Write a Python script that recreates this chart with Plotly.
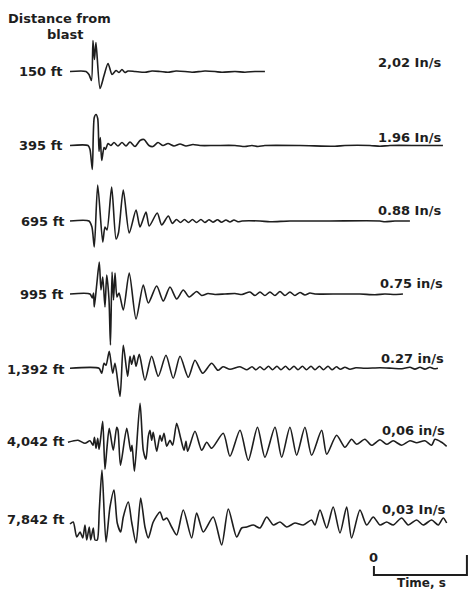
import plotly.graph_objects as go

# ---------------- data (time in ms from trace start, deflection in trace units, + = up) ----------------
DISTANCES = ["150 ft", "395 ft", "695 ft", "995 ft", "1,392 ft", "4,042 ft", "7,842 ft"]
PEAK_VELOCITY = ["2,02 In/s", "1.96 In/s", "0.88 In/s", "0.75 in/s", "0.27 in/s", "0,06 in/s", "0,03 In/s"]

TRACE_150 = [(0, 0), (172, 0), (204, -3), (231, -9), (247, 31), (263, 12), (279, 29), (323, -17), (366, -4),
             (409, 8), (452, -3), (495, 1), (527, -1), (559, 2), (591, -1), (624, 0.5), (699, 0), (806, -0.8),
             (882, 0.5), (968, 0), (1054, -0.8), (1140, 0.5), (1236, 0), (1312, -0.8), (1451, 0.5), (1559, 0),
             (1634, -0.8), (1774, 0), (1881, -0.7), (1989, 0), (2096, 0)]

TRACE_395 = [(0, 0), (194, 0), (215, -4), (240, -24), (261, 28), (280, 31), (298, 27), (312, -6), (326, 8),
             (341, -15), (366, -2), (382, -4), (409, 2), (441, 0), (473, 3), (516, -0.5), (559, 3), (602, -0.5),
             (645, 3.5), (699, -1), (753, 5), (796, 6), (849, 0), (892, -1), (946, 3), (1000, 0), (1054, 2),
             (1118, -0.5), (1183, 1.5), (1247, -0.5), (1322, 1), (1398, 0), (1559, 0), (1774, 0), (1881, -1),
             (1957, 0), (2021, -1), (2096, 0), (2473, 0), (2849, -0.8), (2956, 0), (3225, 0), (3333, -0.8),
             (3440, 0), (3763, 0), (4010, 0)]

TRACE_695 = [(0, 0), (204, 0), (236, -6), (261, -26), (298, 36), (352, -21), (376, -6), (398, -9), (448, 34),
             (495, -18), (521, -12), (573, 31), (637, -12), (710, 11), (753, -6), (817, 9), (852, -5), (938, 8),
             (986, -4), (1057, 5), (1100, -2.5), (1145, 1.5), (1188, -1.5), (1231, 1.5), (1274, -1.5),
             (1317, 1.5), (1360, -1.5), (1408, 1.5), (1451, -1.5), (1494, 1.2), (1537, -1.2), (1586, 1.2),
             (1629, -1.2), (1677, 1), (1720, -1), (1763, 1), (1806, -0.8), (1849, 0), (2043, 0), (2150, -0.8),
             (2365, 0), (2795, 0), (3333, 0), (3386, -0.8), (3494, 0), (3655, 0)]

TRACE_995 = [(0, 0), (215, 0), (240, -4), (253, 1), (261, -13), (287, 9), (315, 32), (333, 4), (352, 17),
             (376, -13), (395, 19), (419, -5), (435, -51), (452, 22), (468, -6), (484, 21), (505, -3), (527, 1),
             (573, -16), (637, 21), (710, -25), (788, 9), (842, -9), (932, 8), (1003, -7), (1075, 7), (1147, -5),
             (1218, 4), (1282, -3), (1362, 2.5), (1416, -1.5), (1484, 0.5), (1559, -0.5), (1666, 0), (1774, 0.5),
             (1849, -0.5), (1935, 2), (1989, -1.5), (2043, 2), (2096, -1.5), (2150, 2), (2204, -1.5), (2258, 2.5),
             (2311, -1.5), (2365, 2), (2419, -1.5), (2473, 1.5), (2526, -1), (2580, 1), (2634, 0), (2903, 0),
             (3118, 0), (3279, -0.7), (3386, 0), (3494, -0.5), (3580, 0)]

TRACE_1392 = [(0, 0), (312, 0), (341, -5), (366, 5), (387, 3), (422, 17), (459, -5), (484, 5), (538, -28),
              (573, 23), (620, -8), (645, 12), (663, 4), (688, 13), (710, 2), (745, 14), (806, -12), (878, 12),
              (949, -8), (1032, 13), (1110, -10), (1183, 12), (1272, -9), (1344, 8), (1427, -5), (1523, 5),
              (1591, -2), (1645, 1.5), (1720, -1), (1828, 1.5), (1903, -1.5), (1957, 1.5), (2000, -1.5),
              (2043, 1.5), (2086, -1.5), (2134, 2), (2177, -1.5), (2225, 2), (2268, -1.5), (2317, 2),
              (2360, -1.5), (2408, 2), (2451, -1.5), (2499, 2), (2542, -1.5), (2591, 2), (2634, -1.5), (2682, 2),
              (2725, -1.5), (2774, 2), (2817, -1.5), (2865, 1.5), (2908, -1), (2956, 1), (3010, -1), (3074, 0.5),
              (3171, 0), (3333, 0.5), (3462, 0), (3569, -0.5), (3655, 1), (3709, -0.8), (3763, 1), (3816, -0.8),
              (3870, 1), (3913, -0.5), (3956, 0)]

TRACE_4042 = [(-22, 0), (86, 2), (161, -1), (215, 1.5), (247, -3), (263, 5), (280, -6), (298, 4), (312, -7),
              (328, 3), (352, 21), (376, -27), (398, -5), (422, 14), (465, -8), (502, 15), (516, 12), (543, -23),
              (610, 14), (653, -9), (667, -3), (693, -29), (753, 39), (788, -8), (817, -17), (842, 6), (860, 12),
              (878, 2), (895, 10), (932, -9), (968, 7), (986, 1), (1011, 9), (1040, -4), (1075, 2), (1104, -3),
              (1147, 19), (1190, 4), (1226, -8), (1247, 1), (1265, -9), (1344, 11), (1416, -8), (1470, 0),
              (1523, -6), (1648, 9), (1720, -14), (1828, 12), (1917, -18), (2016, 15), (2096, -15), (2204, 15),
              (2276, -15), (2365, 15), (2437, -13), (2526, 15), (2598, -13), (2706, 12), (2760, -12), (2867, 7),
              (2956, -5), (3028, 3), (3082, -2), (3171, 3), (3243, -3), (3333, 2.5), (3405, -2), (3475, 1.5),
              (3566, -3), (3655, 1.5), (3727, -0.5), (3816, 1.5), (3888, -3), (3924, 3), (3996, 0), (4050, -4)]

TRACE_7842 = [(0, -4), (35, -2), (72, -17), (108, -12), (137, -18), (161, -5), (180, -20), (207, -7),
              (223, -20), (250, -8), (269, -20), (293, -20), (315, 10), (344, 50), (387, -22), (430, 13),
              (473, 30), (508, -3), (545, -12), (573, 3), (627, 18), (663, -2), (710, -23), (760, 22), (806, -7),
              (842, -18), (895, -2), (968, 8), (1003, 0), (1040, 2), (1093, -7), (1147, -15), (1218, 10),
              (1308, -18), (1362, 7), (1433, -12), (1540, 3), (1631, -25), (1702, 11), (1792, -17), (1846, -8),
              (1900, -7), (1971, -5), (2043, -8), (2115, 3), (2186, -5), (2258, -2), (2330, -7), (2419, -3),
              (2508, -5), (2598, 0), (2634, -5), (2688, 10), (2760, -8), (2830, 13), (2903, -13), (2975, 13),
              (3028, -18), (3118, 10), (3190, -5), (3261, 3), (3333, -5), (3405, -2), (3475, -5), (3566, 2),
              (3637, -5), (3727, 0), (3798, -5), (3888, 0), (3960, -5), (4013, 2), (4050, -3)]

TRACES = [TRACE_150, TRACE_395, TRACE_695, TRACE_995, TRACE_1392, TRACE_4042, TRACE_7842]

SCALE_BAR_S = [0, 1]          # time scale bar, seconds
SCALE_BAR_TEXT = ["0", "Time, s"]

# ---------------- layout constants ----------------
W, H = 471, 591
MS_PER_PX = 1000 / 93.0        # from the 1 s scale bar
X0_PX = 70                     # trace start (pixel)
BASELINES = [71.5, 145.5, 221, 294, 368.3, 442.3, 520]
LEFT_LABEL_RIGHT = [65, 65, 66.5, 66, 66.5, 66.5, 66.5]
LEFT_LABEL_Y = [71, 145, 221.5, 294, 369, 441.7, 519]
RIGHT_LABEL_RIGHT = [443, 443, 443, 445, 446, 446.7, 446.7]
RIGHT_LABEL_Y = [62, 137, 210.5, 283.3, 358, 430.7, 509]
INK = "#1e1e1e"
FONT = dict(family="DejaVu Sans", size=13, color=INK, weight="bold")

fig = go.Figure()

for tr, base in zip(TRACES, BASELINES):
    t = [p[0] for p in tr]
    y = [base - p[1] for p in tr]
    fig.add_trace(go.Scatter(x=t, y=y, mode="lines",
                             line=dict(color=INK, width=1.6, shape="spline", smoothing=0.7),
                             hoverinfo="skip", showlegend=False, cliponaxis=False))

# scale bar (0 .. 1 s): short tick at 0, long tick at 1 s, joined underneath
t0 = 3268
ts = [t0 + s * 1000 for s in SCALE_BAR_S]
fig.add_trace(go.Scatter(x=[ts[0], ts[0], ts[1], ts[1]], y=[566, 575, 575, 555], mode="lines",
                         line=dict(color=INK, width=2), hoverinfo="skip", showlegend=False, cliponaxis=False))

ann = []
def px(xp):
    return xp / W

ann.append(dict(text="Distance from", x=px(6), y=18, xref="paper", yref="y", xanchor="left",
                yanchor="middle", showarrow=False, font=FONT))
ann.append(dict(text="blast", x=px(65), y=34.5, xref="paper", yref="y", xanchor="center",
                yanchor="middle", showarrow=False, font=FONT))
for lab, xr, yy in zip(DISTANCES, LEFT_LABEL_RIGHT, LEFT_LABEL_Y):
    ann.append(dict(text=lab, x=px(xr), y=yy, xref="paper", yref="y", xanchor="right",
                    yanchor="middle", showarrow=False, font=FONT))
for lab, xr, yy in zip(PEAK_VELOCITY, RIGHT_LABEL_RIGHT, RIGHT_LABEL_Y):
    ann.append(dict(text=lab, x=px(xr), y=yy, xref="paper", yref="y", xanchor="right",
                    yanchor="middle", showarrow=False, font=FONT))
ann.append(dict(text=SCALE_BAR_TEXT[0], x=ts[0] - 5, y=557, xref="x", yref="y",
                xanchor="center", yanchor="middle", showarrow=False, font=FONT))
ann.append(dict(text=SCALE_BAR_TEXT[1], x=px(421), y=583, xref="paper", yref="y", xanchor="center",
                yanchor="middle", showarrow=False, font=dict(FONT, size=12)))

fig.update_layout(
    width=W, height=H,
    margin=dict(l=0, r=0, t=0, b=0),
    paper_bgcolor="white", plot_bgcolor="white",
    xaxis=dict(range=[-X0_PX * MS_PER_PX, (W - X0_PX) * MS_PER_PX], visible=False, fixedrange=True),
    yaxis=dict(range=[H, 0], visible=False, fixedrange=True),
    annotations=ann,
    showlegend=False,
)

fig.write_html("out.html", config={"displayModeBar": False, "staticPlot": True})
